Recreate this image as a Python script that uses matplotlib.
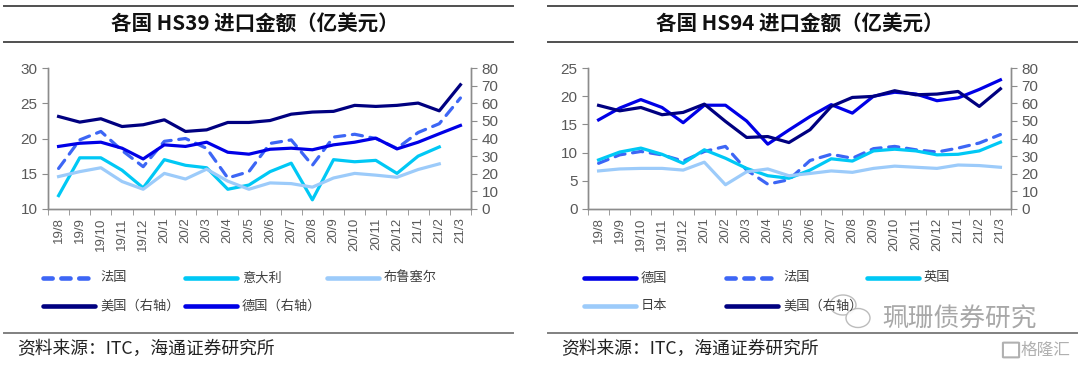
import matplotlib
matplotlib.use("Agg")
import matplotlib.pyplot as plt
from matplotlib.lines import Line2D
from matplotlib.patches import Ellipse, FancyBboxPatch
import numpy as np

CJK = ["Noto Sans CJK SC", "DejaVu Sans"]
NUM = ["Liberation Sans", "DejaVu Sans"]

# categories (months)
months = ["19/8", "19/9", "19/10", "19/11", "19/12", "20/1", "20/2", "20/3",
          "20/4", "20/5", "20/6", "20/7", "20/8", "20/9", "20/10", "20/11",
          "20/12", "21/1", "21/2", "21/3"]

# HS39 (left axis: France, Italy, Brussels; right axis: US, Germany)
hs39_france = [15.75, 19.8, 21.0, 18.3, 16.0, 19.6, 20.0, 18.6, 14.4, 15.3,
               19.3, 19.8, 16.2, 20.2, 20.6, 20.0, 18.6, 20.85, 22.1, 25.75]
hs39_italy = [11.9, 17.26, 17.26, 15.5, 13.0, 17.0, 16.2, 15.85, 12.8, 13.4,
              15.3, 16.5, 11.3, 17.0, 16.7, 16.9, 15.05, 17.5, 18.8, np.nan]
hs39_brussels = [14.6, 15.3, 15.85, 13.9, 12.8, 15.05, 14.25, 15.65, 13.95, 12.8,
                 13.7, 13.6, 13.1, 14.4, 15.05, 14.8, 14.5, 15.6, 16.4, np.nan]
hs39_us = [52.5, 49.3, 51.2, 46.8, 47.8, 50.6, 44.0, 44.9, 49.1, 49.1,
           50.2, 53.8, 55.0, 55.4, 58.8, 58.2, 58.8, 60.1, 55.7, 70.5]
hs39_germany = [35.5, 37.3, 37.9, 34.5, 28.4, 36.4, 35.5, 37.9, 32.2, 31.1,
                33.9, 34.5, 33.6, 36.4, 37.9, 40.2, 34.1, 37.9, 42.7, 47.4]

# HS94 (left axis: Germany, France, UK, Japan; right axis: US)
hs94_germany = [15.8, 17.9, 19.4, 18.0, 15.3, 18.4, 18.4, 15.6, 11.5, 14.0,
                16.4, 18.5, 17.0, 20.0, 20.7, 20.4, 19.2, 19.7, 21.2, 22.9]
hs94_france = [8.1, 9.6, 10.2, 9.6, 8.5, 10.2, 11.1, 6.9, 4.4, 5.2,
               8.6, 9.7, 9.0, 10.7, 11.1, 10.5, 10.1, 10.8, 11.7, 13.2]
hs94_uk = [8.7, 10.1, 10.8, 9.7, 8.1, 10.5, 9.0, 7.2, 5.9, 5.45,
           6.9, 8.9, 8.5, 10.3, 10.6, 10.3, 9.6, 9.7, 10.3, 11.85]
hs94_japan = [6.75, 7.1, 7.2, 7.2, 6.9, 8.3, 4.3, 6.6, 7.1, 5.9,
              6.3, 6.75, 6.5, 7.2, 7.6, 7.4, 7.2, 7.8, 7.7, 7.4]
hs94_us = [58.8, 55.7, 57.6, 53.5, 54.8, 59.5, 49.7, 40.6, 41.1, 37.7,
           45.0, 58.2, 63.3, 63.9, 67.1, 64.8, 65.2, 66.7, 58.2, 68.2]

NAVY = "#000080"
BLUE = "#0000E6"
DASH = "#3D66F5"
CYAN = "#00C8F5"
LIGHT = "#9CCBFA"
GRAY = "#595959"
SPINE = "#8C8C8C"
LW = 2.3
DASHES = (3.2, 2.4)

W, H = 1080, 366
fig = plt.figure(figsize=(10.8, 3.66), dpi=100)


def fx(x):
    return x / W


def fy(y):
    return 1 - y / H


def style_axes(ax, ax2, left_lim, left_ticks):
    x = np.arange(len(months))
    ax.set_xlim(-0.5, len(months) - 0.5)
    ax.set_ylim(*left_lim)
    ax.set_yticks(left_ticks)
    ax2.set_ylim(0, 80)
    ax2.set_yticks(range(0, 81, 10))
    ax.set_xticks(x)
    ax.set_xticklabels(months, rotation=90, fontsize=9.5, color=GRAY, family=NUM)
    ax.set_xticks(np.arange(-0.5, len(months)), minor=True)
    ax.tick_params(axis="x", which="major", length=0, pad=6)
    ax.tick_params(axis="x", which="minor", length=4, color=SPINE, direction="out")
    ax.tick_params(axis="y", length=4, color=SPINE, labelcolor=GRAY, labelsize=11)
    ax2.tick_params(axis="y", length=4, color=SPINE, labelcolor=GRAY, labelsize=11)
    for lab in ax.get_yticklabels() + ax2.get_yticklabels():
        lab.set_family(NUM)
    for a in (ax, ax2):
        a.spines["top"].set_visible(False)
        for s in ("left", "right", "bottom"):
            a.spines[s].set_color(SPINE)
            a.spines[s].set_linewidth(1.0)
        a.patch.set_visible(False)


def panel_frame(x0, x1, title, tx):
    for y, c in ((6, "#505050"), (42, "#505050"), (333, "#808080")):
        fig.add_artist(Line2D([fx(x0), fx(x1)], [fy(y), fy(y)], color=c, lw=1.4))
    fig.text(fx(tx), fy(24), title, ha="center", va="center", fontsize=14.8,
             fontweight="bold", family=CJK, color="#111111")
    fig.text(fx(x0 + 13), fy(349), "资料来源：ITC，海通证券研究所", ha="left",
             va="center", fontsize=12.8, family=CJK, color="#222222")


def legend_item(x, y, color, label, dashed=False):
    ln = Line2D([fx(x), fx(x + 52)], [fy(y), fy(y)], color=color, lw=LW + 1,
                solid_capstyle="round", dash_capstyle="round")
    if dashed:
        ln.set_dashes((2.0, 1.9))
    fig.add_artist(ln)
    fig.text(fx(x + 57), fy(y), label, ha="left", va="center", fontsize=9.5,
             family=CJK, color="#404040")


# ---------------- left panel: HS39 ----------------
x = np.arange(len(months))
axL = fig.add_axes([fx(48), fy(209), fx(471) - fx(48), fy(68) - fy(209)])
axL2 = axL.twinx()
axL.plot(x, hs39_france, color=DASH, lw=LW, dashes=DASHES, dash_capstyle="round")
axL.plot(x, hs39_italy, color=CYAN, lw=LW)
axL.plot(x, hs39_brussels, color=LIGHT, lw=LW)
axL2.plot(x, hs39_us, color=NAVY, lw=LW)
axL2.plot(x, hs39_germany, color=BLUE, lw=LW)
style_axes(axL, axL2, (10, 30), range(10, 31, 5))

panel_frame(4, 513, "各国 HS39 进口金额（亿美元）", 255)
legend_item(43, 278, DASH, "法国", dashed=True)
legend_item(185, 278, CYAN, "意大利")
legend_item(327, 278, LIGHT, "布鲁塞尔")
legend_item(43, 306, NAVY, "美国（右轴）")
legend_item(185, 306, BLUE, "德国（右轴）")

# ---------------- right panel: HS94 ----------------
axR = fig.add_axes([fx(588), fy(209), fx(1011) - fx(588), fy(68) - fy(209)])
axR2 = axR.twinx()
axR.plot(x, hs94_germany, color=BLUE, lw=LW)
axR.plot(x, hs94_france, color=DASH, lw=LW, dashes=DASHES, dash_capstyle="round")
axR.plot(x, hs94_uk, color=CYAN, lw=LW)
axR.plot(x, hs94_japan, color=LIGHT, lw=LW)
axR2.plot(x, hs94_us, color=NAVY, lw=LW)
style_axes(axR, axR2, (0, 25), range(0, 26, 5))

panel_frame(548, 1077, "各国 HS94 进口金额（亿美元）", 800)
legend_item(584, 278, BLUE, "德国")
legend_item(726, 278, DASH, "法国", dashed=True)
legend_item(867, 278, CYAN, "英国")
legend_item(584, 306, LIGHT, "日本")
legend_item(726, 306, NAVY, "美国（右轴）")

# watermark
for (cx, cy, w, h) in ((843, 305, 26, 20), (858, 318, 24, 19)):
    fig.add_artist(Ellipse((fx(cx), fy(cy)), fx(w), h / H, fill=True,
                           facecolor="white", edgecolor="#B5B5B5", lw=1.0, alpha=0.9))
fig.text(fx(882), fy(320), "珮珊债券研究", ha="left", va="center", fontsize=18.5,
         family=CJK, color="#A8A8A8")
fig.add_artist(FancyBboxPatch((fx(1004), fy(357)), fx(14), 14 / H,
                              boxstyle="round,pad=0.001", facecolor="none",
                              edgecolor="#B0B0B0", lw=1.5))
fig.text(fx(1021), fy(350), "格隆汇", ha="left", va="center", fontsize=12,
         family=CJK, color="#B0B0B0")

fig.savefig("out.png", dpi=100)
